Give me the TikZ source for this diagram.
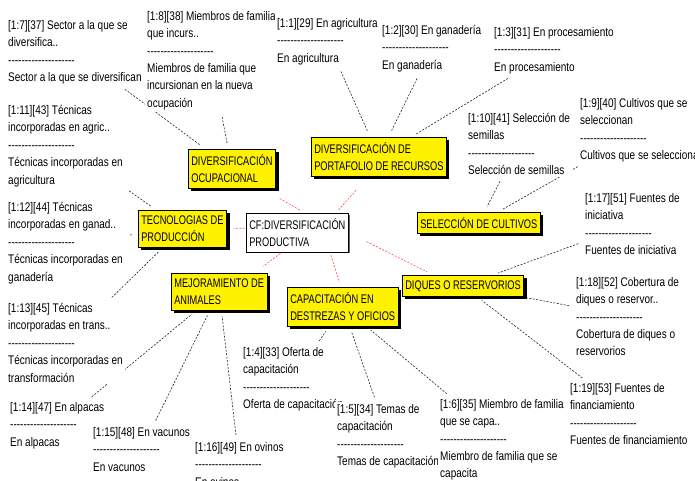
\documentclass[tikz,border=0pt]{standalone}
\usepackage{fontspec}
\setmainfont{Liberation Sans}[FakeStretch=0.8]
\newfontfamily\capsfont{Liberation Sans}[FakeStretch=0.74]
\usetikzlibrary{shadows,backgrounds}
\newcommand{\guiones}{-{}-{}-{}-{}-{}-{}-{}-{}-{}-{}-{}-{}-{}-{}-{}-{}-{}-{}-{}-}

\begin{document}
\begin{tikzpicture}[x=1pt,y=-1pt,
		cita/.style={anchor=north west,align=left,fill=white,inner sep=2pt,font=\fontsize{12.5}{17.4}\selectfont},
		codigo/.style={anchor=north west,align=left,fill=yellow,draw=black,line width=.6pt,inner xsep=3pt,inner ysep=5pt,font=\capsfont\fontsize{12.5}{17.7}\selectfont,drop shadow={shadow xshift=3pt,shadow yshift=-3pt,opacity=1,fill=black}},
		nucleo/.style={anchor=north west,align=left,fill=white,draw=black,line width=.6pt,inner xsep=3pt,inner ysep=5pt,font=\capsfont\fontsize{12.5}{17.7}\selectfont,drop shadow={shadow xshift=1.5pt,shadow yshift=-1.5pt,opacity=1,fill=black!60}},
		enlace/.style={dash pattern=on 2pt off 1.5pt,line width=.6pt,black!85,shorten <=5pt,shorten >=6pt},
		rojo/.style={dash pattern=on 2pt off 1.5pt,line width=.6pt,red!70}]
	\useasboundingbox (0,0) rectangle (695,480);
	\node[cita] (q_sector) at (6,18) {[1:7][37] Sector a la que se\\diversifica..\\\guiones\\Sector a la que se diversifican};
	\node[cita] (q_miembros) at (145,9) {[1:8][38] Miembros de familia\\que incurs..\\\guiones\\Miembros de familia que\\incursionan en la nueva\\ocupación};
	\node[cita] (q_agri) at (275,16) {[1:1][29] En agricultura\\\guiones\\En agricultura};
	\node[cita] (q_gan) at (380,23) {[1:2][30] En ganadería\\\guiones\\En ganadería};
	\node[cita] (q_proc) at (492,25) {[1:3][31] En procesamiento\\\guiones\\En procesamiento};
	\node[cita] (q_semillas) at (466,111) {[1:10][41] Selección de\\semillas\\\guiones\\Selección de semillas};
	\node[cita] (q_cultivos) at (578,96) {[1:9][40] Cultivos que se\\seleccionan\\\guiones\\Cultivos que se seleccionan};
	\node[cita] (q_agric) at (6,103) {[1:11][43] Técnicas\\incorporadas en agric..\\\guiones\\Técnicas incorporadas en\\agricultura};
	\node[cita] (q_ganad) at (6,200) {[1:12][44] Técnicas\\incorporadas en ganad..\\\guiones\\Técnicas incorporadas en\\ganadería};
	\node[cita] (q_trans) at (6,301) {[1:13][45] Técnicas\\incorporadas en trans..\\\guiones\\Técnicas incorporadas en\\transformación};
	\node[cita] (q_alpacas) at (8,400) {[1:14][47] En alpacas\\\guiones\\En alpacas};
	\node[cita] (q_vacunos) at (91,425) {[1:15][48] En vacunos\\\guiones\\En vacunos};
	\node[cita] (q_ovinos) at (193,440) {[1:16][49] En ovinos\\\guiones\\En ovinos};
	\node[cita] (q_oferta) at (241,345) {[1:4][33] Oferta de\\capacitación\\\guiones\\Oferta de capacitación};
	\node[cita] (q_temas) at (335,402) {[1:5][34] Temas de\\capacitación\\\guiones\\Temas de capacitación};
	\node[cita] (q_miembro) at (438,397) {[1:6][35] Miembro de familia\\que se capa..\\\guiones\\Miembro de familia que se\\capacita};
	\node[cita] (q_financ) at (568,381) {[1:19][53] Fuentes de\\financiamiento\\\guiones\\Fuentes de financiamiento};
	\node[cita] (q_cobertura) at (574,275) {[1:18][52] Cobertura de\\diques o reservor..\\\guiones\\Cobertura de diques o\\reservorios};
	\node[cita] (q_iniciativa) at (583,191) {[1:17][51] Fuentes de\\iniciativa\\\guiones\\Fuentes de iniciativa};
	\node[codigo] (ocup) at (188,149) {DIVERSIFICACIÓN\\OCUPACIONAL};
	\node[codigo] (port) at (311,137) {DIVERSIFICACIÓN DE\\PORTAFOLIO DE RECURSOS};
	\node[nucleo] (cf) at (246,213) {CF:DIVERSIFICACIÓN\\PRODUCTIVA};
	\node[codigo] (tec) at (138,210) {TECNOLOGIAS DE\\PRODUCCIÓN};
	\node[codigo] (mej) at (171,273) {MEJORAMIENTO DE\\ANIMALES};
	\node[codigo] (cap) at (287,287) {CAPACITACIÓN EN\\DESTREZAS Y OFICIOS};
	\node[codigo] (sel) at (417,212) {SELECCIÓN DE CULTIVOS};
	\node[codigo] (diq) at (402,275) {DIQUES O RESERVORIOS};
	\begin{scope}[on background layer]
		\fill[white] (0,0) rectangle (695,480);
		\draw[enlace] (q_sector) -- (ocup);
		\draw[enlace] (q_miembros) -- (ocup);
		\draw[enlace] (q_agri) -- (port);
		\draw[enlace] (q_gan) -- (port);
		\draw[enlace] (q_proc) -- (port);
		\draw[enlace] (q_semillas) -- (sel);
		\draw[enlace] (q_cultivos) -- (sel);
		\draw[enlace] (q_agric) -- (tec);
		\draw[enlace] (q_ganad) -- (tec);
		\draw[enlace] (q_trans) -- (tec);
		\draw[enlace] (q_alpacas) -- (mej);
		\draw[enlace] (q_vacunos) -- (mej);
		\draw[enlace] (q_ovinos) -- (mej);
		\draw[enlace] (q_oferta) -- (cap);
		\draw[enlace] (q_temas) -- (cap);
		\draw[enlace] (q_miembro) -- (cap);
		\draw[enlace] (q_iniciativa) -- (diq);
		\draw[enlace] (q_cobertura) -- (diq);
		\draw[enlace] (q_financ) -- (diq);
		\draw[rojo,shorten <=6pt,shorten >=20pt] (cf.69) -- (ocup.-33);
		\draw[rojo,shorten <=4pt,shorten >=17pt] (cf.27) -- (port.-118);
		\draw[rojo,shorten <=1pt,shorten >=7pt] (cf.175) -- (tec.east);
		\draw[rojo,shorten <=2pt,shorten >=11pt] (cf.-128) -- (mej.28);
		\draw[rojo,shorten <=3pt,shorten >=5pt] (cf.-31) -- (cap.96);
		\draw[rojo,shorten <=20pt,shorten >=7pt] (cf.east) -- (diq.160);
	\end{scope}
\end{tikzpicture}
\end{document}
